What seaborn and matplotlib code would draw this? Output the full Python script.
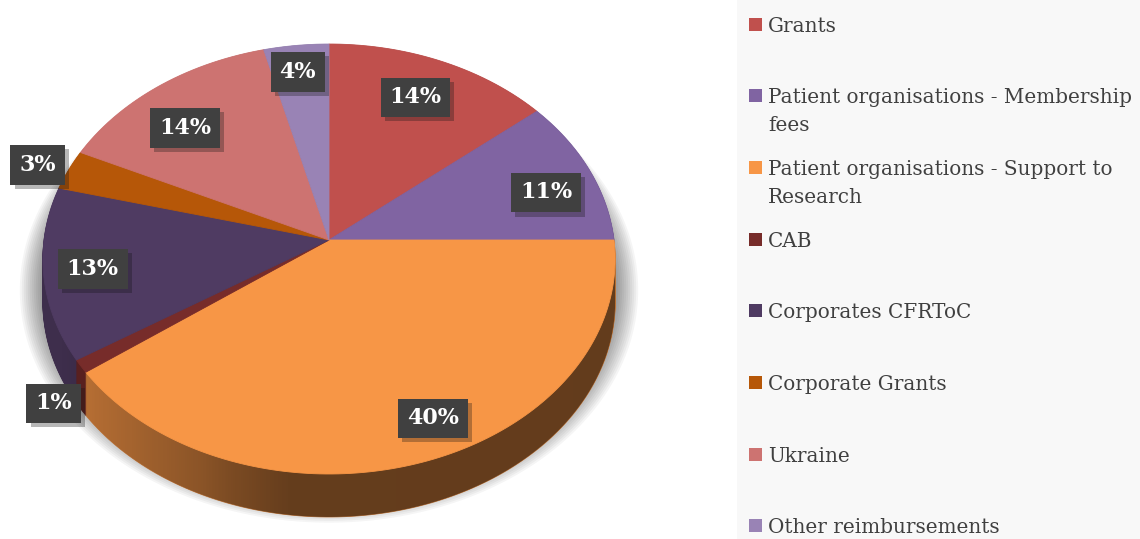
import textwrap

import numpy as np
import matplotlib
matplotlib.use("Agg")
import matplotlib.pyplot as plt
import matplotlib.patheffects as pe
from matplotlib.patches import Circle, Rectangle, PathPatch
from matplotlib.path import Path
from matplotlib.transforms import Transform, Affine2D
import seaborn as sns

# ---- data -------------------------------------------------------------
categories = [
    "Grants",
    "Patient organisations - Membership fees",
    "Patient organisations - Support to Research",
    "CAB",
    "Corporates CFRToC",
    "Corporate Grants",
    "Ukraine",
    "Other reimbursements",
]
shares = [14, 11, 40, 1, 13, 3, 14, 4]
slice_colors = ["#c0504d", "#8064a2", "#f79646", "#772c2a",
                "#4f3b62", "#b65708", "#cd7371", "#9983b5"]

# where the % boxes sit: radius (pie units) and angle nudge (deg) per slice
label_radius = [0.78, 0.81, 0.85, 1.155, 0.83, 1.116, 0.763, 0.855]
label_nudge = [0.8, -3.5, 5.6, 4.2, 0.2, 0.8, 4.3, 0.7]

# ---- "3d" look: perspective squash of the unit pie into pixel space ----
CX, CY = 329.0, 240.0
RX, RY = 285.0, 213.3
K = 0.0884
DEPTH = 43


class Tilt(Transform):
    input_dims = output_dims = 2

    def __init__(self, drop=0.0):
        super().__init__()
        self.drop = drop

    def transform_non_affine(self, values):
        xy = np.asarray(values, dtype=float)
        pts = xy.reshape(-1, 2)
        s = 1.0 / (1.0 + K * pts[:, 1])
        out = np.column_stack([CX + RX * pts[:, 0] * s,
                               CY - RY * pts[:, 1] * s + self.drop])
        return out.reshape(xy.shape)

    def transform_path_non_affine(self, path):
        polys = path.to_polygons(transform=Affine2D().scale(1000.0))
        verts = np.concatenate(polys) / 1000.0
        return Path(self.transform_non_affine(verts), closed=True)


def draw_pie(colors, drop):
    wedges, _ = ax.pie(shares, colors=colors, startangle=90, counterclock=False,
                       wedgeprops=dict(transform=Tilt(drop) + ax.transData,
                                       linewidth=0.6))
    for w in wedges:
        w.set_edgecolor(w.get_facecolor())
    return wedges


sns.set_theme(style="white")
plt.rcParams["font.family"] = ["DejaVu Serif"]

fig = plt.figure(figsize=(11.4, 5.39), dpi=100)
ax = fig.add_axes([0, 0, 1, 1])

# soft shadow
for r in np.linspace(1.08, 0.99, 14):
    ax.add_patch(Circle((0, 0), r, facecolor="black", edgecolor="none",
                        alpha=0.04, transform=Tilt(28) + ax.transData))

# side wall: stacked, darker copies of the pie
side_colors = [tuple(c * 0.78 for c in matplotlib.colors.to_rgb(col))
               for col in slice_colors]
for d in range(DEPTH, 0, -1):
    draw_pie(side_colors, d)

# light falls from the left: darken the wall towards the right
th = np.linspace(0, 2 * np.pi, 1441)
rim = Tilt().transform_non_affine(np.column_stack([np.cos(th), np.sin(th)]))
tr, tl = th[np.argmax(rim[:, 0])] - 2 * np.pi, th[np.argmin(rim[:, 0])]
up = np.linspace(tr, tl, 400)
lo = np.linspace(tl, tr + 2 * np.pi, 400)
hull = np.vstack([Tilt().transform_non_affine(np.column_stack([np.cos(up), np.sin(up)])),
                  Tilt(DEPTH).transform_non_affine(np.column_stack([np.cos(lo), np.sin(lo)]))])
wall = PathPatch(Path(hull, closed=False), facecolor="none", edgecolor="none",
                 transform=ax.transData)
ax.add_patch(wall)
gx = np.arange(0, 740)
shade = np.zeros((1, gx.size, 4))
shade[0, :, 3] = np.interp(gx, [60, 100, 200, 230, 290, 740],
                           [0.0, 0.09, 0.28, 0.36, 0.48, 0.49])
img = ax.imshow(shade, extent=(0, 740, 539, 0), aspect="auto",
                interpolation="bilinear", zorder=1.5)
img.set_clip_path(wall)

# top face
for w in draw_pie(slice_colors, 0):
    w.set_zorder(2)

# percentage boxes
total = float(sum(shares))
mids = 90 - (np.cumsum(shares) - np.array(shares) / 2) / total * 360
for v, a, r, n in zip(shares, mids, label_radius, label_nudge):
    t = np.deg2rad(a + n)
    px, py = Tilt().transform_non_affine(np.array([[r * np.cos(t), r * np.sin(t)]]))[0]
    txt = ax.text(px, py, f"{v}%", ha="center", va="center", fontsize=16,
                  fontweight="bold", color="white", zorder=5,
                  bbox=dict(boxstyle="square,pad=0.4", fc="#404040",
                            ec="none", lw=0))
    txt.get_bbox_patch().set_path_effects(
        [pe.SimplePatchShadow(offset=(3, -3), alpha=0.3), pe.Normal()])

# legend panel
ax.add_patch(Rectangle((737, 0), 403, 539, facecolor="#f8f8f8",
                       edgecolor="none", zorder=0))
for i, (name, col) in enumerate(zip(categories, slice_colors)):
    y0 = 24 + i * 71.7
    ax.add_patch(Rectangle((749, y0 - 6.5), 13, 13, facecolor=col,
                           edgecolor="none", zorder=2))
    for j, line in enumerate(textwrap.wrap(name, 34)):
        ax.text(768, y0 + j * 28, line, fontsize=14.4, color="#404040",
                ha="left", va="center_baseline", zorder=2)

ax.set_aspect("auto")
ax.set_xlim(0, 1140)
ax.set_ylim(539, 0)
ax.axis("off")

fig.savefig("out.png", dpi=100, facecolor="white")
